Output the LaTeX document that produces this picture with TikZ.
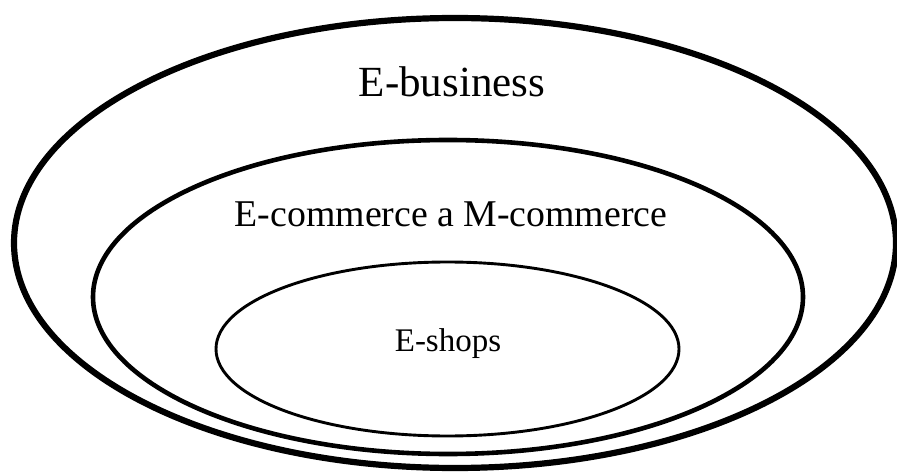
\documentclass[tikz,border=0pt]{standalone}
\usepackage{fontspec}
\setmainfont{Liberation Serif}
\usetikzlibrary{positioning}
\tikzset{
  ring/.style={draw=black, line cap=round},
  label/.style={anchor=base, inner sep=0pt}
}
\begin{document}
\begin{tikzpicture}[x=1pt, y=-1pt]
			%%%%% START %%%%%
			\useasboundingbox (0, 0) rectangle (897, 473);
			
			\coordinate (business) at (455, 243);
			\coordinate (commerce) at (448, 297);
			\coordinate (shops) at (447.5, 349);
			
			\draw[ring, line width=6.2pt] (business) ellipse [x radius=441, y radius=225];
			\draw[ring, line width=4.6pt] (commerce) ellipse [x radius=355, y radius=157];
			\draw[ring, line width=2.9pt] (shops) ellipse [x radius=231.5, y radius=87];
			
			\node[label, font=\fontsize{43}{43}\selectfont] (businesstext) at (452, 97) {E-business};
			\node[label, font=\fontsize{37.8}{38}\selectfont] (commercetext) at (451, 227) {E-commerce a M-commerce};
			\node[label, font=\fontsize{33}{33}\selectfont] (shopstext) at (448, 351) {E-shops};
			
			%%%%% END %%%%%
\end{tikzpicture}
\end{document}
